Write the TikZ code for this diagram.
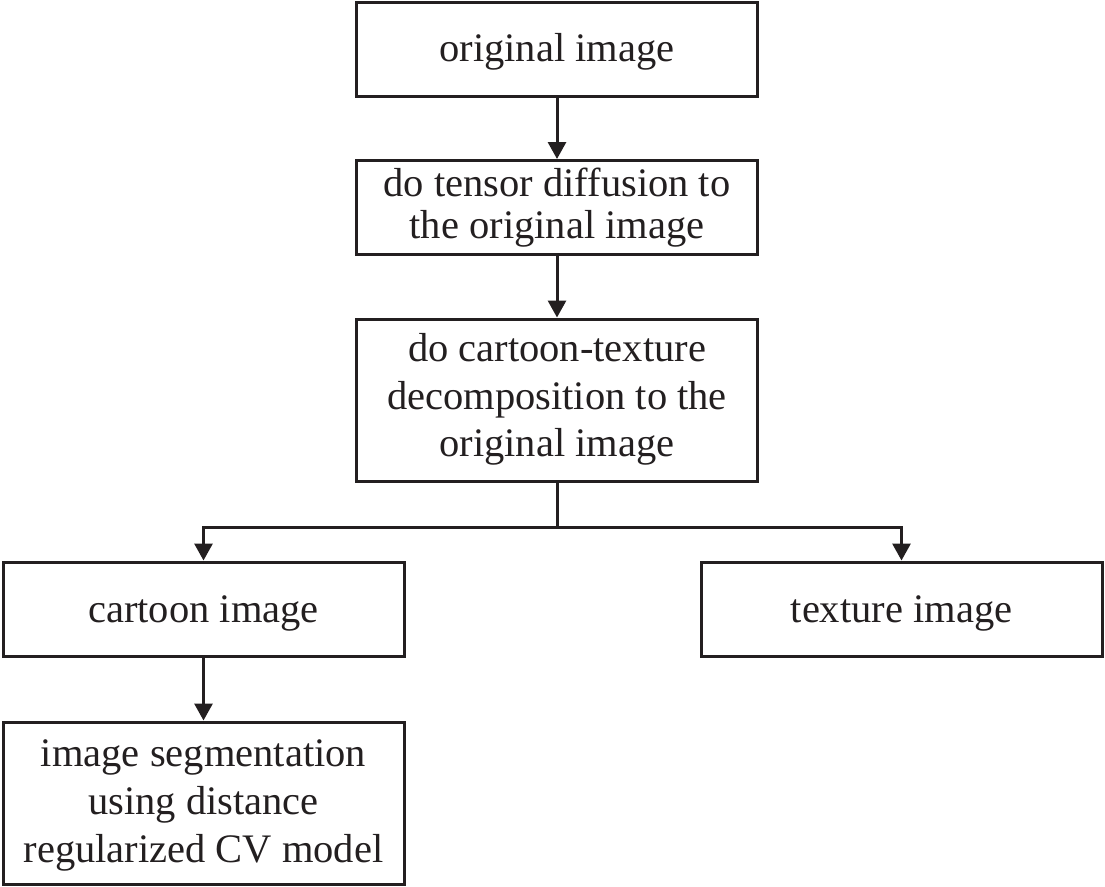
\documentclass[tikz,border=0pt]{standalone}
\usepackage{fontspec}
\setmainfont{Liberation Serif}
\usetikzlibrary{arrows.meta}
\definecolor{ink}{HTML}{231F20}
\begin{document}
\begin{tikzpicture}[x=1pt,y=-1pt,
  box/.style={draw=ink, text=ink, line width=3pt, minimum width=401pt, inner sep=0pt,
    align=center, font=\fontsize{40.5}{48}\selectfont, text height=28pt},
  short/.style={box, minimum height=94pt},
  tall/.style={box, minimum height=162pt},
  conn/.style={draw=ink, line width=3pt, -{Triangle[width=18pt,length=17pt]}}]
\useasboundingbox (0,0) rectangle (1105,886);
\node[short, text depth=3pt] (b1) at (557,49) {original image};
\node[short, text height=69.5pt, text depth=8.5pt, font=\fontsize{40.5}{41.5}\selectfont] (b2) at (557,207.5) {do tensor diffusion to\\the original image};
\node[tall, text height=123pt, text depth=9.6pt, font=\fontsize{40.5}{47.5}\selectfont] (b3) at (557,400) {do cartoon-texture\\decomposition to the\\original image};
\node[short, text depth=1pt] (b4) at (203.5,609) {cartoon image};
\node[short, text depth=1pt] (b5) at (901.5,609) {texture image};
\node[tall, text height=124pt, text depth=6pt] (b6) at (203.5,803) {image segmentation\\using distance\\regularized CV model};
\coordinate (split) at (557,527);
\draw[conn] (b1) -- (b2);
\draw[conn] (b2) -- (b3);
\draw[draw=ink, line width=3pt] (b3.south) -- (split);
\draw[conn] (split) -| (b4.north);
\draw[conn] (split) -| (b5.north);
\draw[conn] (b4) -- (b6);
\end{tikzpicture}
\end{document}
